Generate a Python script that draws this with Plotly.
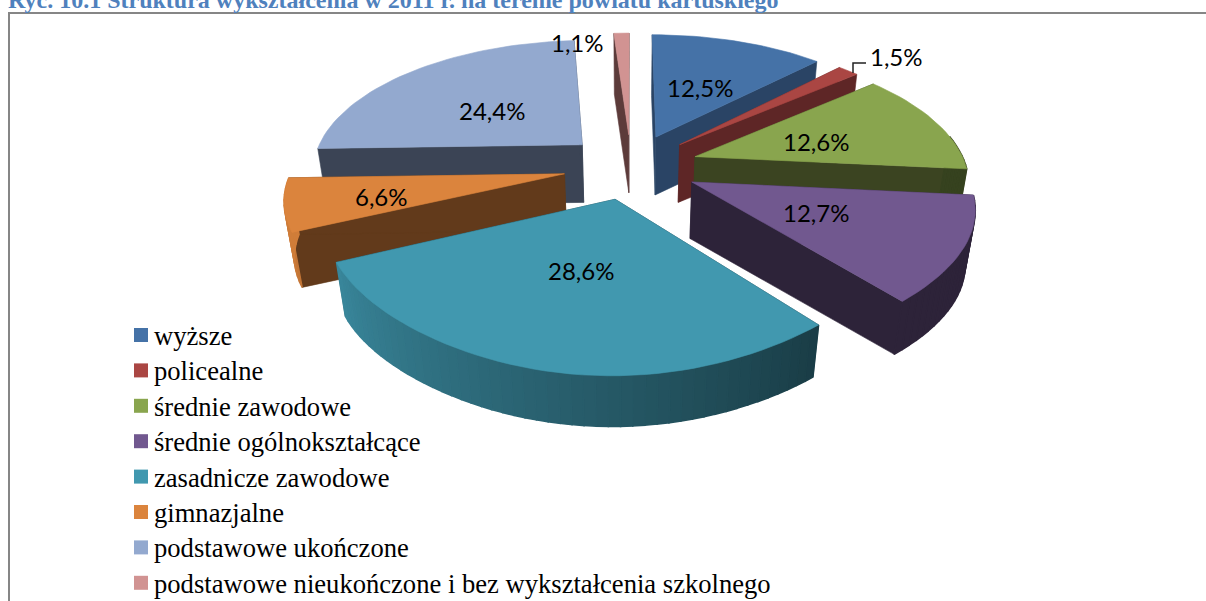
import numpy as np
import plotly.graph_objects as go

categories = ["wyższe", "policealne", "średnie zawodowe", "średnie ogólnokształcące",
              "zasadnicze zawodowe", "gimnazjalne", "podstawowe ukończone",
              "podstawowe nieukończone i bez wykształcenia szkolnego"]
values = [12.5, 1.5, 12.6, 12.7, 28.6, 6.6, 24.4, 1.1]
top_colors = ["#4572A7", "#AA4643", "#89A54E", "#71588F", "#4198AF", "#DB843D", "#93A9CF", "#D19392"]
cut_colors = ["#2A4465", "#5E2626", "#3B4421", "#2D2339", "#1A3B45", "#623A1B", "#3B4455", "#5C3B3A"]
draw_order = [7, 6, 0, 1, 2, 5, 3, 4]
label_x = [700, 896, 816, 816, 581, 381, 492, 577]
label_y = [87, 56, 141, 212, 270, 196, 110, 42]

CX, CY, A, S, K, E, DEPTH, SHRINK = 631, 166, 271, 130.5, 0.182, 0.25, 57, 0.97
LEGEND_MARK_X, LEGEND_TEXT_X, LEGEND_TOP, LEGEND_ROW = 141, 153, 336, 35.4


def project(gx, gy, lower=False):
    f = 1 / (1 + K * gy)
    x = CX + A * gx * f
    y = CY - S * gy * f
    if lower:
        x = CX + (x - CX) * SHRINK
        y = CY + (y - CY) * SHRINK + DEPTH
    return x, y


def hex_shade(c, s):
    r, g, b = int(c[1:3], 16), int(c[3:5], 16), int(c[5:7], 16)
    return f"rgb({int(r*s)},{int(g*s)},{int(b*s)})"


def poly(xs, ys, color, width=0.6):
    return go.Scatter(x=list(xs) + [xs[0]], y=list(ys) + [ys[0]], mode="lines", fill="toself",
                      fillcolor=color, line=dict(color=color, width=width),
                      hoverinfo="skip", showlegend=False)


fig = go.Figure()
edges = np.cumsum([0] + values) / sum(values) * 360

for i in draw_order:
    t0, t1 = edges[i], edges[i + 1]
    mid = np.radians((t0 + t1) / 2)
    ox, oy = E * np.sin(mid), E * np.cos(mid)
    th = np.radians(np.linspace(t0, t1, int(max(4, (t1 - t0) / 2))))
    c = np.cos(th)
    # the front half of the rim is a little rounder than a plain ellipse
    c = np.where(c < 0, c * (1 - 0.06 * (1 - c ** 4)), c)
    gx, gy = ox + np.sin(th), oy + c
    tx, ty = project(gx, gy)
    bx, by = project(gx, gy, True)
    ax, ay = project(ox, oy)
    abx, aby = project(ox, oy, True)
    # radial cut faces
    for k in (0, -1):
        fig.add_trace(poly([ax, tx[k], bx[k], abx], [ay, ty[k], by[k], aby], cut_colors[i]))
    # outer rim, shaded from light (left) to dark (right)
    for k in range(len(th) - 1):
        deg = np.degrees(th[k])
        if 80 < deg < 268:
            s = float(np.clip(0.4 + (deg - 140) / 110 * 0.52, 0.4, 0.95))
            fig.add_trace(poly([tx[k], tx[k + 1], bx[k + 1], bx[k]],
                               [ty[k], ty[k + 1], by[k + 1], by[k]], hex_shade(top_colors[i], s), 1.5))
    # top face
    fig.add_trace(poly([ax] + list(tx), [ay] + list(ty), top_colors[i]))

# legend entries
for r, (name, color) in enumerate(zip(categories, top_colors)):
    fig.add_trace(go.Scatter(x=[LEGEND_MARK_X], y=[LEGEND_TOP - 1 + r * LEGEND_ROW], mode="markers", name=name,
                             marker=dict(symbol="square", size=14, color=color), showlegend=False,
                             hovertemplate=name + "<extra></extra>"))

annotations = [
    dict(x=x, y=y, text=f"{v:.1f}%".replace(".", ","), showarrow=False,
         font=dict(family="Lato", size=24, color="#000000"))
    for x, y, v in zip(label_x, label_y, values)
]
annotations += [
    dict(x=LEGEND_TEXT_X, y=LEGEND_TOP + r * LEGEND_ROW, xanchor="left", yanchor="middle", showarrow=False,
         text=name, borderpad=0, font=dict(family="Liberation Serif", size=26.6, color="#000000"))
    for r, name in enumerate(categories)
]
annotations.append(dict(x=7, y=14, xanchor="left", yanchor="bottom", showarrow=False,
                        text="<b>Ryc. 10.1 Struktura wykształcenia w 2011 r. na terenie powiatu kartuskiego</b>",
                        font=dict(family="Liberation Serif", size=24, color="#4F81BD"),
                        borderpad=0))

fig.update_layout(
    width=1206, height=601, margin=dict(l=0, r=0, t=0, b=0),
    paper_bgcolor="white", plot_bgcolor="white",
    xaxis=dict(range=[0, 1206], visible=False, fixedrange=True),
    yaxis=dict(range=[601, 0], visible=False, fixedrange=True),
    annotations=annotations,
    shapes=[
        dict(type="path", path="M 9 620 L 9 13 L 1220 13", line=dict(color="#868686", width=2)),
        dict(type="path", path="M 853 73 L 853 63 L 866 63", line=dict(color="#222222", width=1.5)),
    ],
    showlegend=False,
)
fig.write_html("out.html", config={"displayModeBar": False},
               post_script="document.body.style.margin='0';document.body.style.overflow='hidden';")
